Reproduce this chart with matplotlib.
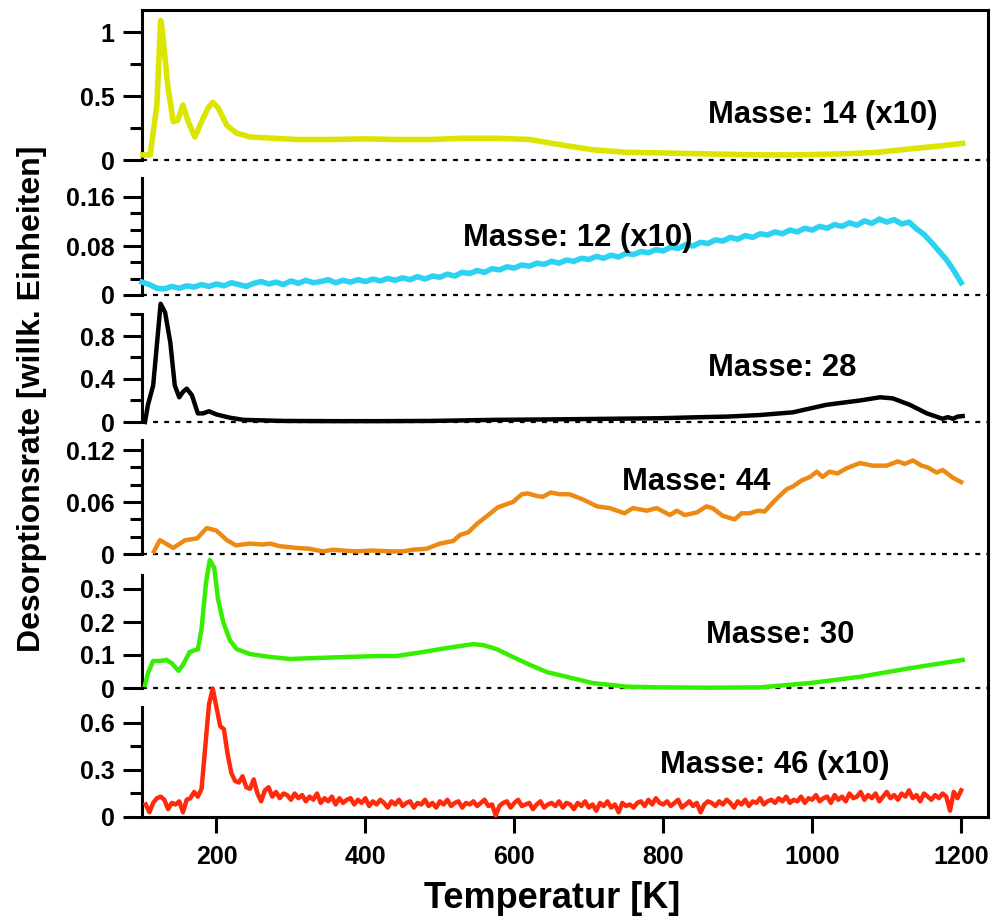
import numpy as np
import matplotlib
matplotlib.use('Agg')
import matplotlib.pyplot as plt

plt.rcParams['font.family'] = ['Liberation Sans', 'DejaVu Sans']
plt.rcParams['font.weight'] = 'bold'

# Masse 14 (x10)
t14 = [101, 111, 120, 125, 127, 135, 142, 148, 155, 162, 171, 180, 189, 195, 202, 214, 227, 245, 276, 308,
       352, 400, 442, 487, 531, 576, 621, 661, 705, 751, 800, 840, 885, 930, 975, 1019, 1050, 1087, 1120,
       1154, 1180, 1202]
v14 = [0.04, 0.04, 0.43, 1.09, 1.03, 0.56, 0.30, 0.31, 0.43, 0.30, 0.18, 0.30, 0.41, 0.45, 0.41, 0.27, 0.21,
       0.18, 0.17, 0.16, 0.16, 0.165, 0.16, 0.16, 0.17, 0.17, 0.16, 0.12, 0.08, 0.06, 0.055, 0.05, 0.045,
       0.04, 0.04, 0.045, 0.05, 0.06, 0.08, 0.10, 0.115, 0.13]

# Masse 12 (x10), every 10 K from 100 to 1200
t12 = np.arange(100, 1201, 10)
v12 = [0.021, 0.017, 0.011, 0.010, 0.014, 0.011, 0.015, 0.013, 0.017, 0.014,
       0.018, 0.015, 0.020, 0.017, 0.014, 0.019, 0.022, 0.018, 0.021, 0.017,
       0.023, 0.019, 0.024, 0.020, 0.022, 0.025, 0.020, 0.024, 0.021, 0.025,
       0.022, 0.026, 0.023, 0.027, 0.024, 0.028, 0.025, 0.030, 0.026, 0.031,
       0.029, 0.034, 0.031, 0.037, 0.035, 0.040, 0.037, 0.043, 0.041, 0.046,
       0.044, 0.049, 0.047, 0.052, 0.050, 0.055, 0.052, 0.057, 0.055, 0.060,
       0.058, 0.063, 0.060, 0.065, 0.062, 0.068, 0.066, 0.071, 0.069, 0.074,
       0.072, 0.078, 0.076, 0.082, 0.080, 0.086, 0.084, 0.090, 0.088, 0.094,
       0.091, 0.097, 0.094, 0.100, 0.098, 0.103, 0.100, 0.106, 0.103, 0.109,
       0.106, 0.112, 0.109, 0.115, 0.112, 0.118, 0.114, 0.121, 0.117, 0.124,
       0.119, 0.123, 0.116, 0.119, 0.108, 0.099, 0.086, 0.072, 0.058, 0.040,
       0.020]

# Masse 28
t28 = [104, 108, 115, 120, 125, 131, 138, 144, 150, 155, 160, 167, 175, 182, 190, 200, 218, 236, 290, 352,
       420, 487, 576, 661, 730, 795, 850, 885, 930, 974, 1019, 1064, 1091, 1108, 1131, 1154, 1175, 1182,
       1189, 1195, 1202]
v28 = [0.0, 0.16, 0.34, 0.72, 1.10, 1.02, 0.74, 0.34, 0.23, 0.28, 0.31, 0.25, 0.08, 0.08, 0.10, 0.07, 0.04,
       0.02, 0.01, 0.008, 0.008, 0.01, 0.02, 0.025, 0.03, 0.035, 0.045, 0.05, 0.065, 0.09, 0.16, 0.20, 0.23,
       0.22, 0.16, 0.08, 0.03, 0.045, 0.03, 0.05, 0.055]

# Masse 44
t44 = [116, 124, 142, 158, 174, 187, 200, 214, 226, 245, 262, 272, 285, 308, 325, 343, 356, 370, 388, 409,
       433, 450, 464, 482, 500, 518, 527, 538, 550, 565, 578, 598, 610, 618, 630, 638, 649, 661, 674, 692,
       711, 728, 748, 759, 778, 791, 809, 818, 829, 845, 858, 866, 880, 896, 905, 916, 927, 936, 950, 966,
       974, 986, 997, 1006, 1014, 1023, 1034, 1046, 1064, 1081, 1100, 1115, 1124, 1135, 1147, 1155, 1167,
       1175, 1189, 1200]
v44 = [0.003, 0.016, 0.007, 0.016, 0.018, 0.030, 0.027, 0.016, 0.010, 0.012, 0.011, 0.012, 0.009, 0.007,
       0.006, 0.003, 0.005, 0.004, 0.003, 0.004, 0.003, 0.003, 0.005, 0.006, 0.012, 0.015, 0.022, 0.025,
       0.035, 0.045, 0.054, 0.060, 0.069, 0.070, 0.067, 0.066, 0.071, 0.069, 0.069, 0.063, 0.055, 0.053,
       0.047, 0.053, 0.050, 0.053, 0.045, 0.050, 0.045, 0.048, 0.055, 0.053, 0.044, 0.040, 0.047, 0.047,
       0.050, 0.049, 0.062, 0.075, 0.078, 0.085, 0.089, 0.095, 0.089, 0.095, 0.093, 0.099, 0.105, 0.102,
       0.102, 0.107, 0.104, 0.108, 0.102, 0.100, 0.094, 0.097, 0.088, 0.083]

# Masse 30
t30 = [104, 108, 115, 124, 133, 140, 149, 155, 164, 171, 175, 180, 186, 191, 197, 202, 209, 218, 227, 245,
       272, 299, 335, 375, 419, 442, 477, 509, 545, 558, 576, 598, 621, 644, 661, 705, 751, 795, 862, 930,
       997, 1064, 1131, 1202]
v30 = [0.009, 0.045, 0.082, 0.082, 0.085, 0.075, 0.052, 0.070, 0.109, 0.115, 0.117, 0.18, 0.32, 0.388,
       0.364, 0.27, 0.20, 0.145, 0.118, 0.103, 0.094, 0.088, 0.091, 0.094, 0.097, 0.097, 0.109, 0.121, 0.133,
       0.130, 0.118, 0.094, 0.070, 0.048, 0.039, 0.015, 0.004, 0.002, 0.001, 0.002, 0.015, 0.034, 0.060,
       0.085]

# Masse 46 (x10), every 5 K from 105 to 1200
t46 = np.arange(105, 1201, 5)
v46 = [0.08, 0.03, 0.09, 0.12, 0.13, 0.11, 0.05, 0.09, 0.08, 0.10,
       0.03, 0.11, 0.12, 0.16, 0.13, 0.18, 0.45, 0.72, 0.82, 0.70,
       0.58, 0.56, 0.40, 0.28, 0.23, 0.22, 0.26, 0.19, 0.18, 0.24,
       0.15, 0.10, 0.17, 0.19, 0.13, 0.16, 0.12, 0.15, 0.14, 0.11,
       0.15, 0.12, 0.14, 0.10, 0.13, 0.11, 0.15, 0.09, 0.12, 0.10,
       0.13, 0.08, 0.12, 0.09, 0.11, 0.12, 0.08, 0.11, 0.09, 0.12,
       0.07, 0.10, 0.08, 0.11, 0.09, 0.06, 0.10, 0.08, 0.11, 0.07,
       0.09, 0.10, 0.06, 0.09, 0.08, 0.11, 0.07, 0.09, 0.06, 0.10,
       0.08, 0.11, 0.07, 0.09, 0.10, 0.06, 0.09, 0.08, 0.10, 0.07,
       0.09, 0.11, 0.07, 0.08, 0.01, 0.07, 0.09, 0.10, 0.06, 0.09,
       0.11, 0.07, 0.08, 0.09, 0.05, 0.08, 0.10, 0.06, 0.08, 0.09,
       0.07, 0.10, 0.06, 0.09, 0.08, 0.05, 0.09, 0.07, 0.10, 0.06,
       0.08, 0.04, 0.09, 0.07, 0.10, 0.06, 0.08, 0.03, 0.09, 0.07,
       0.08, 0.06, 0.09, 0.10, 0.07, 0.11, 0.08, 0.12, 0.09, 0.08,
       0.10, 0.07, 0.09, 0.11, 0.06, 0.08, 0.10, 0.07, 0.09, 0.03,
       0.08, 0.10, 0.09, 0.07, 0.10, 0.08, 0.11, 0.09, 0.06, 0.10,
       0.08, 0.11, 0.07, 0.10, 0.09, 0.12, 0.08, 0.10, 0.11, 0.09,
       0.12, 0.10, 0.13, 0.09, 0.11, 0.10, 0.13, 0.09, 0.12, 0.11,
       0.14, 0.10, 0.12, 0.13, 0.09, 0.14, 0.11, 0.13, 0.10, 0.15,
       0.12, 0.13, 0.16, 0.11, 0.14, 0.12, 0.15, 0.10, 0.13, 0.16,
       0.12, 0.14, 0.11, 0.15, 0.13, 0.17, 0.12, 0.14, 0.10, 0.15,
       0.13, 0.11, 0.14, 0.12, 0.15, 0.13, 0.04, 0.16, 0.12, 0.17]

labels = ['Masse: 14 (x10)', 'Masse: 12 (x10)', 'Masse: 28', 'Masse: 44', 'Masse: 30', 'Masse: 46 (x10)']
xticks = [200, 400, 600, 800, 1000, 1200]

W, H = 991, 921
fig = plt.figure(figsize=(W / 100, H / 100), dpi=100)

# top px, zero px, px per unit, spine top, major, minor, label pos
panels = [
    (t14, v14, '#dbe500', 4.0, 10, 160, 128.0, None, [0, 0.5, 1], [0.25, 0.75], (860, 0.35)),
    (t12, v12, '#2cd2f2', 4.0, 160, 295, 612.5, 0.191, [0, 0.08, 0.16],
     [0.08 / 3, 0.16 / 3, 0.08 + 0.08 / 3, 0.08 + 0.16 / 3], (531, 0.093)),
    (t28, v28, 'black', 3.2, 295, 422, 107.5, 1.0, [0, 0.4, 0.8], [0.2, 0.6, 1.0], (860, 0.50)),
    (t44, v44, '#ec8a14', 3.2, 422, 554, 866.0, 0.1316, [0, 0.06, 0.12], [0.02, 0.04, 0.08, 0.10], (744, 0.083)),
    (t30, v30, '#35ee00', 3.2, 554, 688, 330.0, 0.342, [0, 0.1, 0.2, 0.3], [], (857, 0.16)),
    (t46, v46, '#ff2a0c', 3.2, 688, 817, 156.7, 0.70, [0, 0.3, 0.6], [0.15, 0.45], (795, 0.33)),
]

for i, (tx, vy, col, lw, top, zero, ppu, stop, major, minor, lpos) in enumerate(panels):
    last = i == len(panels) - 1
    ax = fig.add_axes([142 / W, 1 - zero / H, 846 / W, (zero - top) / H])
    ax.patch.set_visible(False)
    ax.plot(tx, vy, color=col, lw=lw, clip_on=False, zorder=3, solid_joinstyle='round')
    ax.set_xlim(100, 1236)
    ax.set_ylim(0, (zero - top) / ppu)
    if not last:
        ax.axhline(0, color='black', lw=1.6, ls=(0, (2.2, 2.8)), clip_on=False, zorder=2)
    for s in ax.spines.values():
        s.set_linewidth(2.2)
    ax.spines['top'].set_visible(i == 0)
    ax.spines['bottom'].set_visible(last)
    ax.spines['left'].set_bounds(0, stop if stop else (zero - top) / ppu)
    ax.set_yticks(major)
    ax.set_yticklabels([f'{m:g}' for m in major])
    ax.set_yticks(minor, minor=True)
    ax.tick_params(axis='y', which='major', length=13.7, width=2.2, labelsize=18, pad=6)
    ax.tick_params(axis='y', which='minor', length=8.6, width=2.2)
    ax.tick_params(axis='y', which='both', right=False)
    if last:
        ax.set_xticks(xticks)
        ax.tick_params(axis='x', length=11.5, width=2.2, labelsize=18, pad=9)
    else:
        ax.set_xticks([])
    ax.text(lpos[0], lpos[1], labels[i], fontsize=22.3, fontweight='bold', ha='left', va='center')

fig.text(32 / W, 1 - 399 / H, 'Desorptionsrate [willk. Einheiten]', rotation=90, fontsize=23,
         fontweight='bold', ha='center', va='center')
fig.text(552 / W, 1 - 898 / H, 'Temperatur [K]', fontsize=26, fontweight='bold', ha='center', va='center')

fig.savefig('out.png', dpi=100)
